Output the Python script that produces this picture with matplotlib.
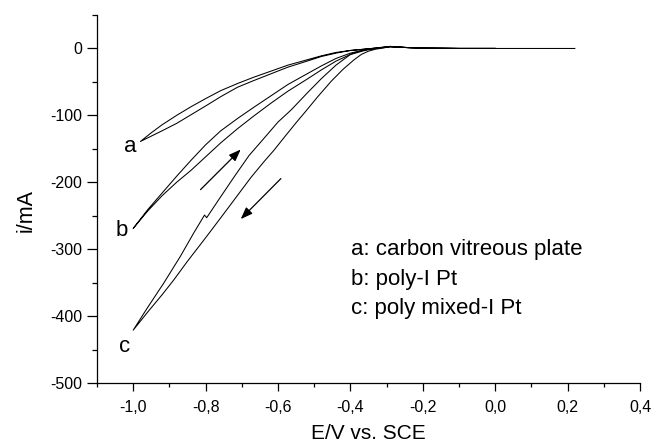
import matplotlib
matplotlib.use('Agg')
import matplotlib.pyplot as plt
from matplotlib.ticker import MultipleLocator

plt.rcParams['font.family'] = ['Liberation Sans', 'DejaVu Sans']
plt.rcParams['axes.unicode_minus'] = False

# cyclic voltammograms (E in V vs. SCE, i in mA)
# each curve: flat part -> forward sweep down to -1.0 V -> return sweep back
a_x = [0.22, 0.10, 0.00, -0.10, -0.20, -0.25, -0.29, -0.33, -0.36, -0.40, -0.44, -0.48, -0.52,
       -0.573, -0.62, -0.667, -0.712, -0.758, -0.80, -0.84, -0.88, -0.92, -0.95, -0.98,
       -0.95, -0.92, -0.88, -0.84, -0.80, -0.758, -0.71, -0.667, -0.62, -0.573, -0.52,
       -0.48, -0.44, -0.40, -0.36, -0.33, -0.29, -0.25, -0.20, -0.10, 0.00]
a_y = [0, 0, 0, 0, 0.5, 1.5, 2.5, 0.5, -1, -3, -7, -12, -19,
       -28, -38, -48, -58, -72, -86, -99, -112, -123, -131, -139,
       -126, -114, -100, -87, -75, -63, -52, -43, -34, -25, -17,
       -11, -6, -3, -1, 0.5, 2.5, 1.5, 0.5, 0, 0]

b_x = [0.00, -0.10, -0.20, -0.25, -0.29, -0.33, -0.36, -0.40, -0.44, -0.48, -0.52, -0.573,
       -0.62, -0.667, -0.712, -0.758, -0.80, -0.84, -0.88, -0.92, -0.96, -1.00,
       -0.96, -0.92, -0.88, -0.84, -0.80, -0.758, -0.71, -0.667, -0.62, -0.573, -0.52,
       -0.48, -0.44, -0.40, -0.36, -0.33, -0.29, -0.25, -0.20, -0.10, 0.00]
b_y = [0, 0, 0.5, 1.5, 3, 0, -3, -9, -19, -32, -46, -64,
       -82, -101, -120, -141, -162, -182, -200, -220, -243, -269,
       -241, -216, -191, -167, -144, -123, -104, -88, -71, -54, -38,
       -26, -15, -7, -2, 0, 3, 1.5, 0.5, 0, 0]

c_x = [0.00, -0.10, -0.20, -0.25, -0.29, -0.31, -0.33, -0.35, -0.37, -0.39, -0.42, -0.453,
       -0.49, -0.522, -0.55, -0.58, -0.611, -0.64, -0.675, -0.70, -0.74, -0.786, -0.81,
       -0.85, -0.888, -0.92, -0.96, -1.00,
       -0.96, -0.916, -0.87, -0.833, -0.823, -0.803, -0.797, -0.76, -0.72, -0.68, -0.643,
       -0.60, -0.564, -0.52, -0.48, -0.44, -0.40, -0.37, -0.34, -0.31, -0.29, -0.25,
       -0.20, -0.10, 0.00]
c_y = [0, 0, 0.5, 1.5, 3, 0.5, -1, -4, -9, -17, -31, -49,
       -72, -93, -111, -131, -152, -170, -193, -211, -240, -273, -290,
       -318, -346, -368, -394, -421,
       -387, -351, -311, -276, -267, -249, -253, -223, -191, -160, -137,
       -110, -92, -67, -45, -25, -9, -3, 0, 2, 3, 1.5,
       0.5, 0, 0]

curve_labels = ['a', 'b', 'c']
curve_label_x = [-1.008, -1.031, -1.025]
curve_label_y = [-155, -281, -453]

legend_lines = ['a: carbon vitreous plate', 'b: poly-I Pt', 'c: poly mixed-I Pt']
legend_x = -0.398
legend_y = [-309, -354, -397]

# sweep direction arrows: (tail, head)
arrow_tails = [(-0.814, -211), (-0.592, -194.5)]
arrow_heads = [(-0.703, -151), (-0.703, -255)]

x_ticks = [-1.0, -0.8, -0.6, -0.4, -0.2, 0.0, 0.2, 0.4]
x_tick_labels = ['-1,0', '-0,8', '-0,6', '-0,4', '-0,2', '0,0', '0,2', '0,4']
y_ticks = [-500, -400, -300, -200, -100, 0]

fig = plt.figure(figsize=(6.53, 4.42), dpi=100)
ax = fig.add_axes([97 / 653, 59 / 442, 543 / 653, 368 / 442])

for xs, ys in [(a_x, a_y), (b_x, b_y), (c_x, c_y)]:
    ax.plot(xs, ys, color='black', lw=0.75)

for lab, lx, ly in zip(curve_labels, curve_label_x, curve_label_y):
    ax.text(lx, ly, lab, fontsize=16, ha='center', va='baseline')

for line, ly in zip(legend_lines, legend_y):
    ax.text(legend_x, ly, line, fontsize=16, ha='left', va='baseline')

for tail, head in zip(arrow_tails, arrow_heads):
    ax.annotate('', xy=head, xytext=tail,
                arrowprops=dict(arrowstyle='-|>,head_length=0.4,head_width=0.15',
                                color='black', lw=0.9, mutation_scale=18,
                                shrinkA=0, shrinkB=0))

ax.set_xlim(-1.1, 0.4)
ax.set_ylim(-500, 50)
ax.set_xticks(x_ticks)
ax.set_xticklabels(x_tick_labels)
ax.set_yticks(y_ticks)
ax.xaxis.set_minor_locator(MultipleLocator(0.1))
ax.yaxis.set_minor_locator(MultipleLocator(50))

ax.spines['top'].set_visible(False)
ax.spines['right'].set_visible(False)
for s in ['left', 'bottom']:
    ax.spines[s].set_linewidth(0.9)

ax.tick_params(axis='x', which='major', direction='out', length=6, width=0.9,
               pad=6.3, labelsize=11.5)
ax.tick_params(axis='x', which='minor', direction='out', length=3, width=0.9)
ax.tick_params(axis='y', which='major', direction='out', length=7, width=0.9,
               pad=3.5, labelsize=11.5)
ax.tick_params(axis='y', which='minor', direction='out', length=3.5, width=0.9)

ax.set_xlabel('E/V vs. SCE', fontsize=15)
ax.set_ylabel('i/mA', fontsize=15.5)
ax.xaxis.set_label_coords(0.5, -0.112)
ax.yaxis.set_label_coords(-0.111, 0.47)

fig.savefig('out.png', dpi=100)
